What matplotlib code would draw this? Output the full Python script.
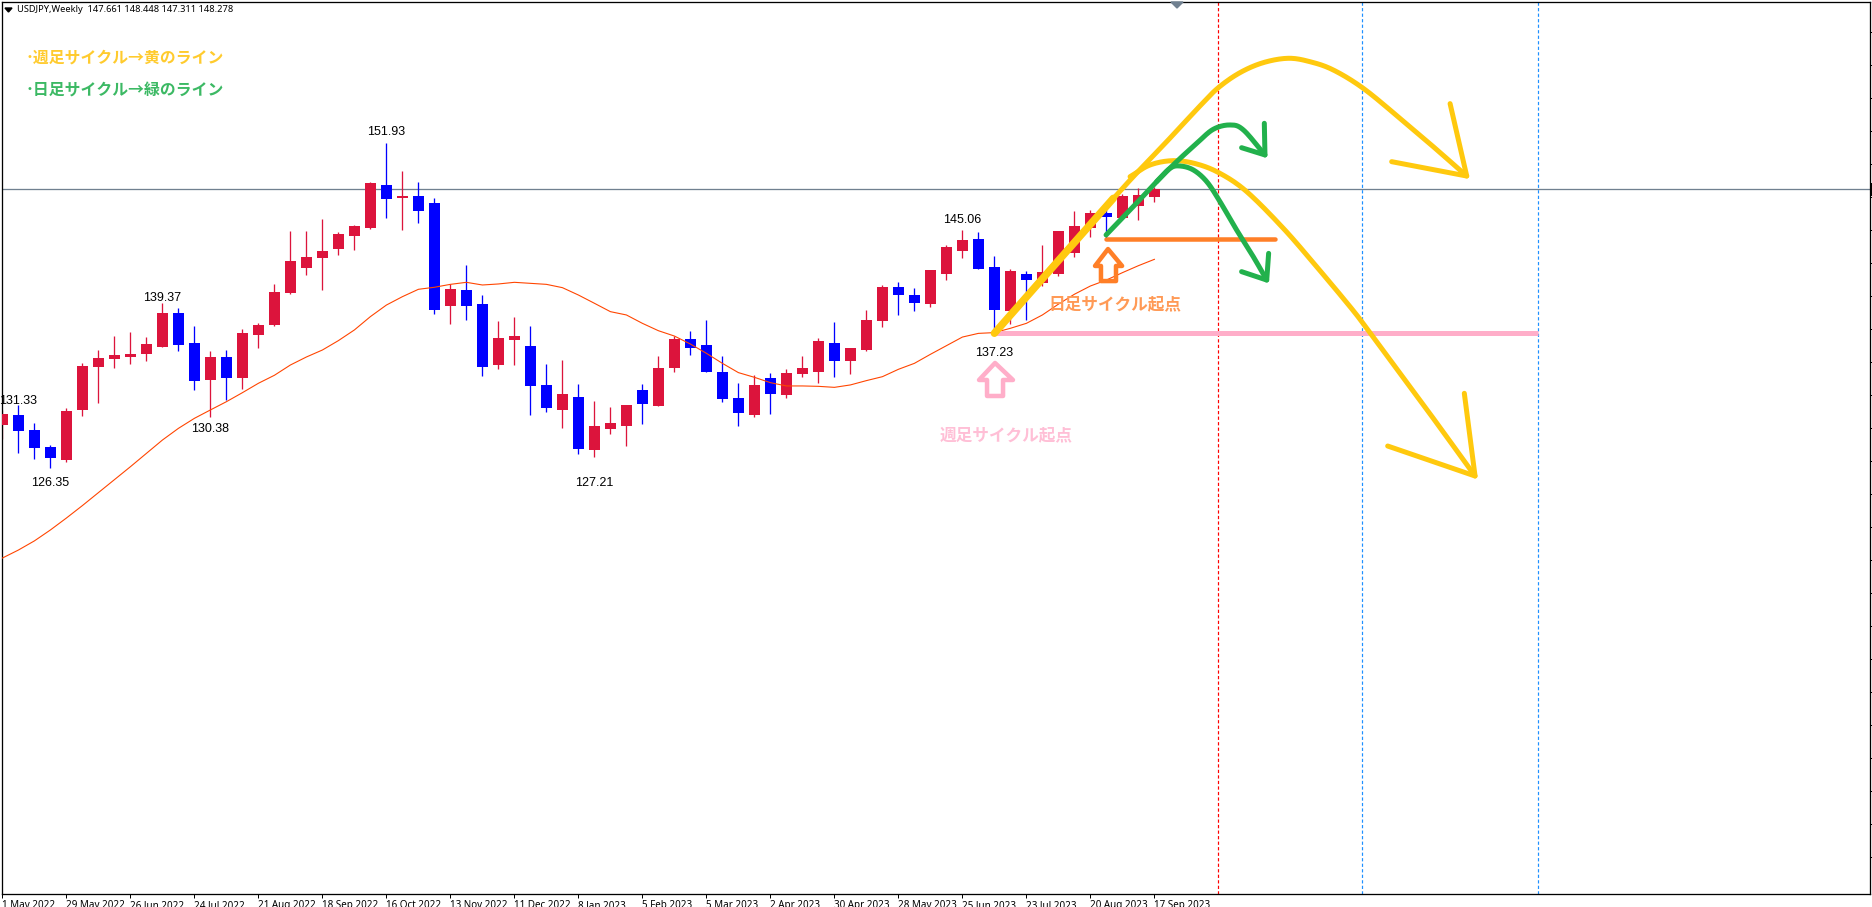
import numpy as np
import matplotlib
matplotlib.use("Agg")
import matplotlib.pyplot as plt
from matplotlib.lines import Line2D
from matplotlib.patches import Polygon

W, H = 1872, 907
JP = ['Noto Sans CJK JP', 'DejaVu Sans']

opens = [129.73,130.51,129.33,127.99,126.97,130.91,134.29,134.92,135.08,135.32,135.87,138.54,136.18,133.27,135.08,133.43,136.81,137.60,140.12,142.09,142.88,143.58,144.61,145.24,148.62,147.60,147.76,147.21,139.10,140.36,139.25,134.45,136.42,135.95,132.88,130.91,131.93,127.76,129.41,129.65,132.48,131.22,134.21,136.50,136.03,133.90,131.85,130.51,133.43,132.09,133.74,133.90,136.18,134.76,135.63,137.91,140.59,139.96,139.25,141.62,143.43,144.37,142.17,138.70,141.62,140.91,141.62,143.24,145.24,146.42,146.03,146.97,147.661]
closes = [130.59,129.25,127.91,127.13,130.83,134.37,135.00,135.24,135.32,136.10,138.54,136.02,133.19,135.08,133.43,136.97,137.60,140.20,142.64,142.95,143.43,144.77,145.40,148.78,147.52,147.76,146.58,138.78,140.43,139.10,134.29,136.58,136.73,132.80,131.06,132.17,127.84,129.65,129.88,131.30,131.38,134.21,136.50,135.79,133.90,131.77,130.67,132.88,132.17,133.82,134.21,136.34,134.76,135.79,137.99,140.59,139.96,139.33,141.93,143.74,144.29,142.01,138.78,141.85,141.14,141.77,145.00,145.39,146.42,146.10,147.76,147.84,148.278]
highs = [130.91,131.33,129.88,128.15,131.06,134.61,135.63,136.73,137.05,136.65,139.37,138.94,137.52,135.55,135.63,137.28,137.76,140.83,145.00,145.00,145.95,144.92,145.47,148.86,151.93,149.73,148.86,147.60,140.83,142.32,139.96,137.91,138.23,137.52,134.53,134.84,132.95,131.62,131.14,131.30,132.95,135.16,136.73,137.13,137.99,135.16,133.03,133.66,133.82,134.13,135.16,136.58,137.84,135.79,138.78,140.75,140.98,140.51,141.93,143.90,145.06,144.92,143.03,142.01,141.85,143.90,145.00,146.58,146.65,147.21,147.91,148.36,148.448]
lows = [128.62,127.55,127.05,126.35,126.81,130.43,131.46,134.21,134.53,134.76,135.85,135.55,132.48,130.38,131.69,132.56,135.79,137.52,140.04,141.54,140.36,143.11,143.51,145.16,146.03,145.08,145.63,138.47,137.68,138.00,133.58,134.13,134.45,130.51,130.75,129.49,127.44,127.21,129.02,128.07,129.80,131.22,133.90,135.24,133.90,131.54,129.65,130.36,130.59,131.85,133.50,133.03,133.50,133.74,135.55,137.44,138.39,138.70,139.02,141.14,142.88,142.01,137.23,137.68,137.99,140.67,141.46,142.98,144.53,144.37,146.03,145.87,147.311]
ma = [119.25,119.88,120.60,121.46,122.40,123.38,124.40,125.42,126.44,127.49,128.54,129.46,130.25,130.91,131.56,132.27,133.01,133.64,134.45,135.08,135.63,136.37,137.21,138.26,139.17,139.83,140.41,140.57,140.80,140.96,140.75,140.83,140.96,140.88,140.80,140.54,139.96,139.31,138.65,138.39,137.73,137.15,136.73,136.10,135.37,134.58,133.85,133.48,133.06,132.80,132.80,132.77,132.69,132.88,133.22,133.53,134.11,134.58,135.29,135.97,136.65,136.94,137.00,137.34,137.73,138.39,139.24,140.02,140.67,141.14,141.72,142.27,142.77]

date_labels = ["1 May 2022","29 May 2022","26 Jun 2022","24 Jul 2022","21 Aug 2022","18 Sep 2022","16 Oct 2022","13 Nov 2022","11 Dec 2022","8 Jan 2023","5 Feb 2023","5 Mar 2023","2 Apr 2023","30 Apr 2023","28 May 2023","25 Jun 2023","23 Jul 2023","20 Aug 2023","17 Sep 2023"]
date_bars = list(range(0, 76, 4))

last_price = 148.278
price_ticks = [160.68,158.08,155.48,152.88,150.28,147.68,145.08,142.48,139.88,137.28,134.68,132.08,129.48,126.88,124.28,121.68,119.08,116.48,113.88,111.28,108.68,106.08,103.48,100.88,98.28,95.68]
label_bars = [1, 3, 10, 13, 24, 37, 60, 62]
label_values = [131.33, 126.35, 139.37, 130.38, 151.93, 127.21, 145.06, 137.23]
label_prices = [131.58, 125.16, 139.72, 129.40, 152.79, 125.16, 145.84, 135.36]

vline_bars = [76, 85, 96]
vline_colors = ['#FF0000', '#1E90FF', '#1E90FF']

big_yellow_x = [62.0,64.43,66.52,68.60,70.68,72.77,74.85,76.0,77.35,78.81,80.37,81.73,83.18,85.06,87.35,89.43,91.52]
big_yellow_y = [136.95,140.49,143.51,146.39,149.28,152.04,154.85,156.29,157.47,158.26,158.60,158.33,157.68,156.23,153.87,151.64,149.33]
big_head_x = [90.48,91.52,86.83]
big_head_y = [155.03,149.33,150.46]
thick_x = [62.0,69.43]
thick_y = [136.95,147.57]
low_yellow_x = [70.48,71.73,73.18,74.64,76.10,77.77,80.06,82.14,84.23,85.27,87.35,89.43,92.04]
low_yellow_y = [149.28,150.20,150.54,150.28,149.54,148.10,145.21,142.19,139.04,137.34,133.79,130.25,125.71]
low_head_x = [91.37,92.04,86.58]
low_head_y = [132.22,125.71,128.07]
green1_x = [68.98,70.68,72.14,73.39,74.64,75.68,76.73,77.56,78.91]
green1_y = [144.69,146.92,148.89,150.46,151.90,153.01,153.35,152.96,150.99]
green1_head_x = [78.87,78.91,77.45]
green1_head_y = [153.48,150.99,151.56]
green2_x = [72.14,72.98,73.60,74.43,75.27,76.10,77.14,78.18,79.02]
green2_y = [148.89,149.94,150.12,149.81,148.89,147.31,145.08,142.98,141.14]
green2_head_x = [79.14,79.02,77.45]
green2_head_y = [143.24,141.14,141.80]
orange_x = [68.98,79.56]
orange_y = [144.34,144.34]
pink_x = [62.0,95.98]
pink_y = [136.95,136.95]
pink_arrow_x = [62.04,63.16,62.54,62.54,61.54,61.54,61.04]
pink_arrow_y = [134.61,133.27,133.27,132.01,132.01,133.27,133.27]
orange_arrow_x = [69.10,69.98,69.6,69.6,68.66,68.66,68.29]
orange_arrow_y = [143.58,142.25,142.25,141.06,141.06,142.25,142.25]

YELLOW, GREEN, ORANGE, PINK = '#FFC90E', '#22B14C', '#FF7F27', '#FFAEC9'
UP, DOWN = '#DC143C', '#0000FF'
PX = 72 / 100


def smooth(xs, ys, n=16):
    p = np.column_stack([xs, ys])
    p = np.vstack([2 * p[0] - p[1], p, 2 * p[-1] - p[-2]])
    out = []
    t = np.linspace(0, 1, n, endpoint=False)[:, None]
    for i in range(1, len(p) - 2):
        a, b, c, d = p[i - 1], p[i], p[i + 1], p[i + 2]
        out.append(0.5 * (2 * b + (c - a) * t + (2 * a - 5 * b + 4 * c - d) * t ** 2 + (3 * b - a - 3 * c + d) * t ** 3))
    out.append(p[-2][None, :])
    out = np.vstack(out)
    return out[:, 0], out[:, 1]


fig = plt.figure(figsize=(W / 100, H / 100), dpi=100, facecolor='white')
ax = fig.add_axes([2 / W, 1 - 893.5 / H, (1870 - 2) / W, (893.5 - 1.5) / H])
ax.set_xlim((2 - 2.4) / 16, (1870 - 2.4) / 16)
ax.set_ylim(151.93 - (893.5 - 143) / 12.7, 151.93 - (1.5 - 143) / 12.7)
for s in ax.spines.values():
    s.set_linewidth(1.3 * PX)
    s.set_color('black')
ax.yaxis.tick_right()
ax.set_yticks(price_ticks)
ax.set_yticklabels([])
ax.tick_params(axis='y', length=2.5, width=PX)
ax.set_xticks(date_bars)
ax.set_xticklabels(date_labels, ha='left', family=['Noto Sans', 'DejaVu Sans'], fontsize=7.1)
ax.tick_params(axis='x', length=3, width=PX, pad=1.5)

bars = np.arange(len(opens))
opens_a, closes_a = np.array(opens), np.array(closes)
cols = [UP if c >= o else DOWN for o, c in zip(opens, closes)]
ax.vlines(bars, lows, highs, colors=cols, linewidth=1.3 * PX, zorder=2)
ax.bar(bars, np.abs(closes_a - opens_a), bottom=np.minimum(opens_a, closes_a), width=0.69, color=cols, linewidth=0, zorder=3)
ax.plot(bars, ma, color='#FF4500', lw=1.1 * PX, zorder=4)

ax.axhline(last_price, color='#708090', lw=1.3 * PX, zorder=1)
for b, c in zip(vline_bars, vline_colors):
    ax.axvline(b, color=c, lw=1.2 * PX, ls=(0, (2.7, 1.9)), zorder=1)

for b, v, p in zip(label_bars, label_values, label_prices):
    ax.text(b, p, f"{v:.2f}", ha='center', va='center', fontsize=9, family='Liberation Sans', color='black', zorder=4)

ax.plot(pink_x, pink_y, color=PINK, lw=5 * PX, solid_capstyle='butt', zorder=5)
ax.plot(orange_x, orange_y, color=ORANGE, lw=4.5 * PX, solid_capstyle='round', zorder=5)
ax.add_patch(Polygon(np.column_stack([pink_arrow_x, pink_arrow_y]), closed=True, fill=False, edgecolor=PINK, lw=4.5 * PX, joinstyle='round', zorder=5))
ax.add_patch(Polygon(np.column_stack([orange_arrow_x, orange_arrow_y]), closed=True, fill=False, edgecolor=ORANGE, lw=4.5 * PX, joinstyle='round', zorder=5))

kw = dict(solid_capstyle='round', solid_joinstyle='round')
for xs, ys, hx, hy in [(big_yellow_x, big_yellow_y, big_head_x, big_head_y), (low_yellow_x, low_yellow_y, low_head_x, low_head_y)]:
    ax.plot(*smooth(xs, ys), color=YELLOW, lw=5 * PX, zorder=6, **kw)
    ax.plot(hx, hy, color=YELLOW, lw=5 * PX, zorder=6, **kw)
ax.plot(thick_x, thick_y, color=YELLOW, lw=7.5 * PX, zorder=6, **kw)
for xs, ys, hx, hy in [(green1_x, green1_y, green1_head_x, green1_head_y), (green2_x, green2_y, green2_head_x, green2_head_y)]:
    ax.plot(*smooth(xs, ys), color=GREEN, lw=5 * PX, zorder=7, **kw)
    ax.plot(hx, hy, color=GREEN, lw=5 * PX, zorder=7, **kw)

ax.text(65.37, 139.25, "日足サイクル起点", family=JP, fontsize=12, fontweight='bold', color='#FF9A56', va='center', zorder=8)
ax.text(58.6, 128.94, "週足サイクル起点", family=JP, fontsize=12, fontweight='bold', color='#FFBFD6', va='center', zorder=8)

# overlay text placed in figure pixels
fig.text(26 / W, 1 - 57.5 / H, "･週足サイクル→黄のライン", family=JP, fontsize=11.4, fontweight='bold', color='#FFCB2E', va='center')
fig.text(26 / W, 1 - 90.5 / H, "･日足サイクル→緑のライン", family=JP, fontsize=11.4, fontweight='bold', color='#3CB964', va='center')
fig.text(17 / W, 1 - 10 / H, "USDJPY,Weekly  147.661 148.448 147.311 148.278", family='Noto Sans', fontsize=6.7, color='black', va='center')
fig.add_artist(Polygon([[5 / W, 1 - 8 / H], [12 / W, 1 - 8 / H], [8.5 / W, 1 - 12 / H]], closed=True, color='black', transform=fig.transFigure))
fig.add_artist(Polygon([[1171 / W, 1 - 2 / H], [1183 / W, 1 - 2 / H], [1177 / W, 1 - 8 / H]], closed=True, color='#708090', transform=fig.transFigure))
fig.add_artist(Line2D([1871.2 / W, 1871.2 / W], [1 - 183 / H, 1 - 195 / H], color='black', lw=PX, transform=fig.transFigure))

fig.savefig('out.png', dpi=100)
